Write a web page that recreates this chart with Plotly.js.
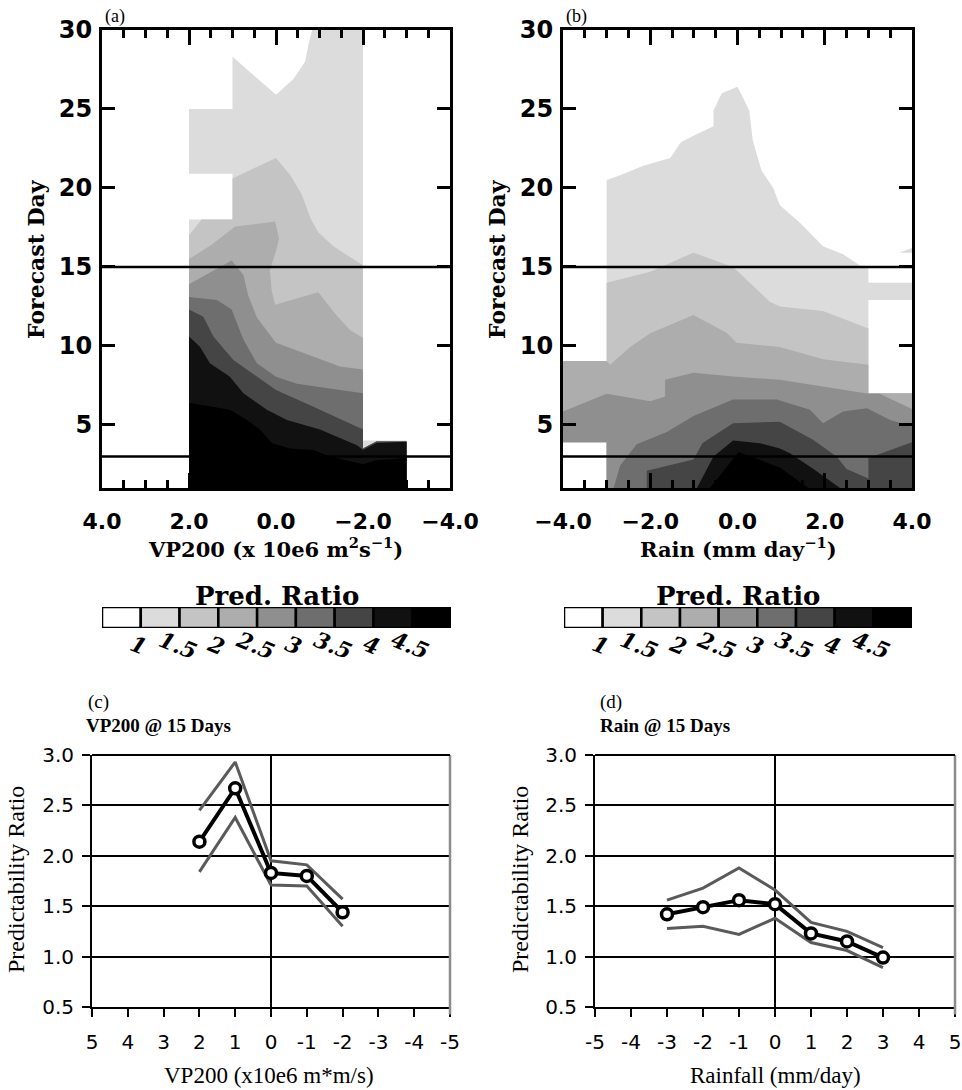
<!DOCTYPE html>
<html><head><meta charset="utf-8">
<script src="https://cdn.plot.ly/plotly-3.0.1.min.js"></script>
<style>html,body{margin:0;padding:0;background:#fff;} #chart{width:962px;height:1090px;}</style>
</head><body><div id="chart"></div>
<script>
// ---------------- DATA ----------------
// contour levels of the predictability ratio
const predLevels = [1, 1.5, 2, 2.5, 3, 3.5, 4, 4.5];

// Panel (a): VP200 anomaly (x) vs forecast day (y); outline of region where ratio >= level
const vpLev1 = [[2,1],[2,18],[1,18],[1,20.9],[2,20.9],[2,25],[1,25],[1,28.3],[0,25.9],[-0.4,26.9],[-0.67,28],[-0.74,29],[-0.83,30],[-2,30],[-2,4],[-3,4],[-3,1]];
const vpLev2 = [[2,1],[2,17],[1.71,18],[1,18],[1,20.6],[0,21.9],[-0.33,20.8],[-0.59,19.6],[-0.79,18.1],[-0.97,17.2],[-1.32,16.3],[-2,15.1],[-2,3.5],[-2.31,3.95],[-3,3.95],[-3,1]];
const vpLev3 = [[2,1],[2,15.5],[1.48,16.4],[0.94,17.55],[0.02,17.87],[-0.07,16.8],[0,16],[0.14,14.8],[0.1,13.5],[0.02,12.6],[-0.97,13.4],[-1.4,11.9],[-1.7,11],[-2,10.5],[-2,3.5],[-2.31,3.95],[-3,3.95],[-3,1]];
const vpLev4 = [[2,1],[2,13.9],[1.02,15.4],[0.75,14.5],[0.64,13.2],[0.44,11.8],[0,10.2],[-0.86,9.3],[-1.47,8.7],[-2,8.5],[-2,3.5],[-2.31,3.95],[-3,3.95],[-3,1]];
const vpLev5 = [[2,1],[2,13.1],[1.36,12.9],[1.02,12.3],[0.75,10.4],[0.44,8.9],[0,8.05],[-0.48,7.6],[-1.47,7.2],[-2,7],[-2,3.5],[-2.31,3.95],[-3,3.95],[-3,1]];
const vpLev6 = [[2,1],[2,12.3],[1.67,11.85],[1.44,10.6],[0.98,9.1],[0.44,8.05],[0,7.2],[-0.86,6.15],[-2,4.7],[-2,3.5],[-2.31,3.95],[-3,3.95],[-3,1]];
const vpLev7 = [[2,1],[2,10.6],[1.75,9.95],[1.52,8.9],[1.06,8.05],[0.75,7],[0.21,5.95],[-0.25,5.3],[-1.01,4.7],[-1.86,3.7],[-2,3.4],[-2.31,3.85],[-3,3.93],[-3,1]];
const vpLev8 = [[2,1],[2,6.4],[1.06,5.95],[0.67,5.3],[0.37,4.7],[0.1,3.85],[-0.32,3.5],[-0.86,3.4],[-1.24,3],[-2,2.5],[-2.3,2.75],[-3,2.9],[-3,1]];

// Panel (b): rain anomaly (x) vs forecast day (y)
const rnLev1 = [[-4,3.9],[-4,9.04],[-3,9.04],[-3,20.5],[-2.69,20.8],[-2.16,21.4],[-1.54,21.9],[-1.3,22.9],[-1.01,23.3],[-0.55,23.9],[-0.55,24.9],[-0.36,26],[0,26.4],[0.27,24.9],[0.35,23],[0.55,21.1],[0.82,20],[0.97,18.9],[1.43,17.8],[1.96,16.3],[2.42,15.8],[2.8,15.1],[3,14.9],[3,7],[4,7],[4,1],[-3,1],[-3,3.9],null,[3,12.9],[4,12.9],[4,14],[3,14],null,[3.7,15.9],[4,16.2],[4,15.9]];
const rnLev2 = [[-4,3.9],[-4,9.04],[-3,9.04],[-3,14],[-2,14.7],[-1.01,15.9],[-0.1,15],[0.74,12.8],[0.97,12.5],[1.96,12.2],[3,11.1],[3,7],[4,7],[4,1],[-3,1],[-3,3.9]];
const rnLev3 = [[-4,3.9],[-4,9.04],[-3,9.04],[-2.92,8.8],[-2.46,9.93],[-2,10.8],[-1.01,11.95],[-0.25,10.83],[-0.02,10.2],[0.97,9.93],[1.96,9.15],[3,8.8],[3,7],[4,7],[4,1],[-3,1],[-3,3.9]];
const rnLev4 = [[-4,3.9],[-4,5.84],[-3,6.96],[-2,6.5],[-1.66,6.8],[-1.66,7.85],[-1.01,8.3],[-0.1,8.06],[0.97,7.85],[2.04,7.4],[3,6.96],[3.26,6.96],[3.91,6.15],[4,6],[4,1],[-3,1],[-3,3.9]];
const rnLev5 = [[-2.84,1],[-2.69,2.42],[-2.31,3.77],[-1.62,4.55],[-1.01,5.56],[-0.1,6.6],[0.9,6.6],[1.66,5.95],[1.96,5.1],[2.42,5.84],[2.97,6.05],[3.5,5.3],[4,4.9],[4,1]];
const rnLev6 = [[-2.08,1],[-2.08,2.1],[-1.01,2.8],[-0.8,3.85],[-0.1,5.1],[0.97,5.2],[1.73,4.05],[2.27,3],[2.5,2.2],[3,1.6],[3,2.9],[4,3.9],[4,1]];
const rnLev7 = [[-0.93,1],[-0.55,3.0],[-0.1,4.0],[0.51,3.84],[0.97,3.5],[1.2,3.2],[1.74,2.2],[2.35,1]];
const rnLev8 = [[-0.63,1],[0.02,3.27],[0.97,2.3],[1.62,1]];

// Panel (c): VP200 @ 15 days
const vpBins = [2, 1, 0, -1, -2];
const vpMean = [2.14, 2.67, 1.83, 1.80, 1.44];
const vpUpper = [2.45, 2.93, 1.95, 1.91, 1.57];
const vpLower = [1.84, 2.38, 1.71, 1.70, 1.30];
const vpTickVals = [5, 4, 3, 2, 1, 0, -1, -2, -3, -4, -5];
const vpTickText = ['5','4','3','2','1','0','-1','-2','-3','-4','-5'];

// Panel (d): Rain @ 15 days
const rainBins = [-3, -2, -1, 0, 1, 2, 3];
const rainMean = [1.42, 1.49, 1.56, 1.52, 1.23, 1.15, 0.99];
const rainUpper = [1.56, 1.68, 1.88, 1.66, 1.34, 1.25, 1.09];
const rainLower = [1.28, 1.30, 1.22, 1.38, 1.14, 1.06, 0.89];
const rainTickVals = [-5, -4, -3, -2, -1, 0, 1, 2, 3, 4, 5];
const rainTickText = ['-5','-4','-3','-2','-1','0','1','2','3','4','5'];

// ---------------- STYLE ----------------
const W = 962, H = 1090;
const PX = v => v / W;
const PY = v => 1 - v / H;
const shades = ['#dcdcdc','#c4c4c4','#adadad','#8f8f8f','#6e6e6e','#454545','#111111','#000000'];
const boxColors = ['#ffffff'].concat(shades);

function poly(pts, xa, ya, color) {
  const x = [], y = [];
  pts.forEach(p => { if (p === null) { x.push(null); y.push(null); } else { x.push(p[0]); y.push(p[1]); } });
  return {type:'scatter', mode:'lines', x:x, y:y, xaxis:xa, yaxis:ya, fill:'toself',
          fillcolor:color, line:{width:0, color:color}, hoverinfo:'skip', showlegend:false};
}

const traces = [];
[vpLev1,vpLev2,vpLev3,vpLev4,vpLev5,vpLev6,vpLev7,vpLev8].forEach((p,i) => traces.push(poly(p,'x','y',shades[i])));
[rnLev1,rnLev2,rnLev3,rnLev4,rnLev5,rnLev6,rnLev7,rnLev8].forEach((p,i) => traces.push(poly(p,'x2','y2',shades[i])));

// colour bars
const boxIdx = boxColors.map((c,i) => i);
['x5','x6'].forEach((xa,k) => {
  traces.push({type:'bar', x:boxIdx, y:boxIdx.map(() => 1), width:1, xaxis:xa, yaxis:k===0?'y5':'y6',
    marker:{color:boxColors, line:{color:'black', width:2.5}}, hoverinfo:'skip', showlegend:false});
});

// line charts
function bandLines(xs, up, lo, mean, xa, ya) {
  const grey = {color:'#5a5a5a', width:3};
  traces.push({type:'scatter', mode:'lines', x:xs, y:up, xaxis:xa, yaxis:ya, line:grey, hoverinfo:'skip', showlegend:false});
  traces.push({type:'scatter', mode:'lines', x:xs, y:lo, xaxis:xa, yaxis:ya, line:grey, hoverinfo:'skip', showlegend:false});
  traces.push({type:'scatter', mode:'lines+markers', x:xs, y:mean, xaxis:xa, yaxis:ya,
    line:{color:'black', width:4}, marker:{symbol:'circle', size:11, color:'white', line:{color:'black', width:3.5}},
    hoverinfo:'skip', showlegend:false, cliponaxis:false});
}
bandLines(vpBins, vpUpper, vpLower, vpMean, 'x3', 'y3');
bandLines(rainBins, rainUpper, rainLower, rainMean, 'x4', 'y4');

// ---------------- AXES ----------------
const topTopY = 30, topBotY = 488;
function topX(l, r, range, anchor) {
  return {domain:[PX(l), PX(r)], range:range, anchor:anchor, showline:true, linecolor:'black', linewidth:3,
    mirror:'ticks', ticks:'inside', ticklen:15, tickwidth:3, tickcolor:'black', dtick:2, tick0:0,
    tickformat:'.1f', ticklabelstandoff:12,
    tickfont:{family:'DejaVu Sans', size:22, weight:'bold', color:'black'}, showgrid:false, zeroline:false,
    minor:{dtick:0.5, tick0:0, ticks:'inside', ticklen:8, tickwidth:3, tickcolor:'black', showgrid:false}};
}
function topY(anchor) {
  return {domain:[PY(topBotY), PY(topTopY)], range:[1,30], anchor:anchor, showline:true, linecolor:'black', linewidth:3,
    mirror:'ticks', ticks:'inside', ticklen:13, tickwidth:3, tickcolor:'black', dtick:5, tick0:0,
    ticklabelstandoff:2,
    tickfont:{family:'DejaVu Sans', size:24, weight:'bold', color:'black'}, showgrid:false, zeroline:false};
}
const botTopY = 755, botBotY = 1007;
function botX(l, r, range, anchor, vals, text) {
  return {domain:[PX(l), PX(r)], range:range, anchor:anchor, showline:true, linecolor:'black', linewidth:2,
    ticks:'outside', ticklen:8, tickwidth:2, tickcolor:'black', tickvals:vals, ticktext:text,
    ticklabelstandoff:8,
    tickfont:{family:'DejaVu Sans', size:20, color:'black'}, showgrid:false,
    zeroline:true, zerolinecolor:'black', zerolinewidth:2};
}
function botY(anchor) {
  return {domain:[PY(botBotY), PY(botTopY)], range:[0.5,3.0], anchor:anchor, showline:true, linecolor:'black', linewidth:2,
    ticks:'outside', ticklen:8, tickwidth:2, tickcolor:'black', dtick:0.5, tick0:0, tickformat:'.1f',
    ticklabelstandoff:4,
    tickfont:{family:'DejaVu Sans', size:20, color:'black'}, showgrid:true, gridcolor:'black', gridwidth:2, zeroline:false};
}
const hidden = (l, r, t, b, range) => ({domain: l!==null ? [PX(l),PX(r)] : [PY(b),PY(t)], range:range, visible:false, fixedrange:true});

const layout = {
  width:W, height:H, margin:{l:0,r:0,t:0,b:0}, paper_bgcolor:'white', plot_bgcolor:'white',
  showlegend:false, barmode:'overlay',
  xaxis: topX(102, 450, [4,-4], 'y'),
  yaxis: topY('x'),
  xaxis2: topX(563, 912, [-4,4], 'y2'),
  yaxis2: topY('x2'),
  xaxis3: botX(92, 450, [5,-5], 'y3', vpTickVals, vpTickText),
  yaxis3: botY('x3'),
  xaxis4: botX(595, 955, [-5,5], 'y4', rainTickVals, rainTickText),
  yaxis4: botY('x4'),
  xaxis5: Object.assign(hidden(102, 451, null, null, [-0.5, 8.5]), {anchor:'y5'}),
  yaxis5: Object.assign(hidden(null, null, 607, 628, [0,1]), {anchor:'x5'}),
  xaxis6: Object.assign(hidden(564, 912, null, null, [-0.5, 8.5]), {anchor:'y6'}),
  yaxis6: Object.assign(hidden(null, null, 607, 628, [0,1]), {anchor:'x6'}),
  shapes: [], annotations: []
};

// reference lines at day 15 and day 3
[['x','y'],['x2','y2']].forEach(([xa,ya]) => {
  [15, 3].forEach(d => layout.shapes.push({type:'line', xref:xa+' domain', yref:ya, x0:0, x1:1, y0:d, y1:d,
    line:{color:'black', width:2.5}, layer:'above'}));
});
// grey right frame + black top line for the Excel-style panels
[['x3','y3'],['x4','y4']].forEach(([xa,ya]) => {
  layout.shapes.push({type:'line', xref:xa+' domain', yref:ya+' domain', x0:1, x1:1, y0:-0.03, y1:1, line:{color:'#8c8c8c', width:2.5}, layer:'above'});
  layout.shapes.push({type:'line', xref:xa+' domain', yref:ya+' domain', x0:0, x1:1, y0:1, y1:1, line:{color:'black', width:2}, layer:'above'});
});

const ann = layout.annotations;
const A = (text, x, y, font, extra) => ann.push(Object.assign({text:text, xref:'paper', yref:'paper', x:PX(x), y:PY(y),
  xanchor:'center', yanchor:'middle', showarrow:false, font:font}, extra||{}));
const serifB = s => ({family:'DejaVu Serif', size:s, weight:'bold', color:'black'});
const times = s => ({family:'Liberation Serif', size:s, color:'black'});
const timesB = s => ({family:'Liberation Serif', size:s, weight:'bold', color:'black'});

A('(a)', 103, 16, times(18), {xanchor:'left'});
A('(b)', 564, 16, times(18), {xanchor:'left'});
A('Forecast Day', 36, 259, serifB(22), {textangle:-90});
A('Forecast Day', 497, 259, serifB(22), {textangle:-90});
A('VP200 (x 10e6 m<sup>2</sup>s<sup>−1</sup>)', 275, 548, serifB(21));
A('Rain (mm day<sup>−1</sup>)', 738, 548, serifB(21));

// colour bar titles & labels
[['x5', 277], ['x6', 738]].forEach(([xa, cx]) => {
  A('Pred. Ratio', cx, 596, serifB(26));
  predLevels.forEach((lv, i) => ann.push({text:String(lv), xref:xa, yref:'paper', x:i + 0.45, y:PY(645),
    xanchor:'center', yanchor:'middle', showarrow:false, textangle:22,
    font:{family:'DejaVu Serif', size:22, weight:'bold', style:'italic', color:'black'}}));
});

A('(c)', 86, 702, times(19), {xanchor:'left'});
A('VP200 @ 15 Days', 84, 725, timesB(19), {xanchor:'left'});
A('(d)', 598, 702, times(19), {xanchor:'left'});
A('Rain @ 15 Days', 598, 725, timesB(19), {xanchor:'left'});
A('Predictability Ratio', 16, 880, times(24), {textangle:-90});
A('Predictability Ratio', 520, 880, times(24), {textangle:-90});
A('VP200 (x10e6 m*m/s)', 269, 1075, times(23));
A('Rainfall (mm/day)', 775, 1075, times(23));

Plotly.newPlot('chart', traces, layout, {staticPlot:true, displayModeBar:false});
</script>
</body></html>
